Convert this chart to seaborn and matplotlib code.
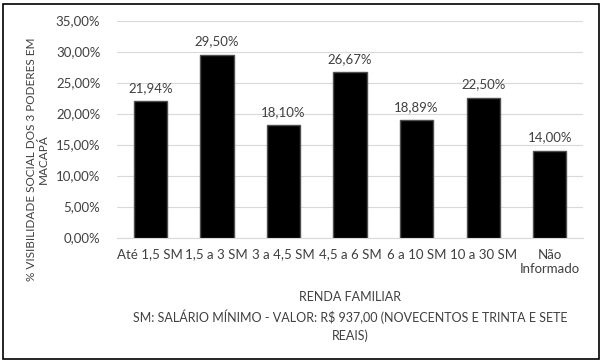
import matplotlib
matplotlib.use("Agg")
import matplotlib.pyplot as plt
import seaborn as sns
import pandas as pd
from matplotlib.patches import Rectangle
from matplotlib.ticker import FuncFormatter

categories = ["Até 1,5 SM", "1,5 a 3 SM", "3 a 4,5 SM", "4,5 a 6 SM",
              "6 a 10 SM", "10 a 30 SM", "Não\nInformado"]
values = [21.94, 29.50, 18.10, 26.67, 18.89, 22.50, 14.00]

sns.set_style("white")
plt.rcParams["font.family"] = ["Lato", "DejaVu Sans"]
txt = "#404040"

df = pd.DataFrame({"renda": categories, "pct": values})

fig = plt.figure(figsize=(6.04, 3.64), dpi=100)
ax = fig.add_axes([117 / 604, 1 - 237.5 / 364, 466 / 604, 217 / 364])

sns.barplot(data=df, x="renda", y="pct", color="black", width=0.5,
            edgecolor="#505050", linewidth=1, saturation=1, ax=ax, zorder=3)

ax.set_ylim(0, 35)
ax.set_yticks(range(0, 36, 5))
ax.yaxis.set_major_formatter(FuncFormatter(lambda v, p: f"{v:.2f}%".replace(".", ",")))
ax.grid(axis="y", color="#d9d9d9", linewidth=0.8, zorder=0)
for s in ["top", "right", "left"]:
    ax.spines[s].set_visible(False)
ax.spines["bottom"].set_color("#d9d9d9")
ax.tick_params(axis="both", length=0, labelsize=9.5, colors=txt, pad=8)
ax.tick_params(axis="y", pad=12)

for i, v in enumerate(values):
    ax.text(i, v + 1.2, f"{v:.2f}%".replace(".", ","), ha="center", va="bottom",
            fontsize=9.5, color=txt)

ax.set_xlabel("RENDA FAMILIAR\nSM: SALÁRIO MÍNIMO - VALOR: R$ 937,00 (NOVECENTOS E TRINTA E SETE\nREAIS)",
              fontsize=9, color=txt, linespacing=1.5, labelpad=12)
ax.set_ylabel("")
fig.text(37 / 604, 1 - 159 / 364, "% VISIBILIDADE SOCIAL DOS 3 PODERES EM\nMACAPÁ",
         rotation=90, ha="center", va="center", multialignment="center",
         fontsize=8.5, color=txt, linespacing=1.1)

fig.patches.append(Rectangle((3 / 604, 5 / 364), 596 / 604, 355 / 364,
                             transform=fig.transFigure, fill=False,
                             edgecolor="black", linewidth=1.2))

fig.savefig("out.png", dpi=100)
